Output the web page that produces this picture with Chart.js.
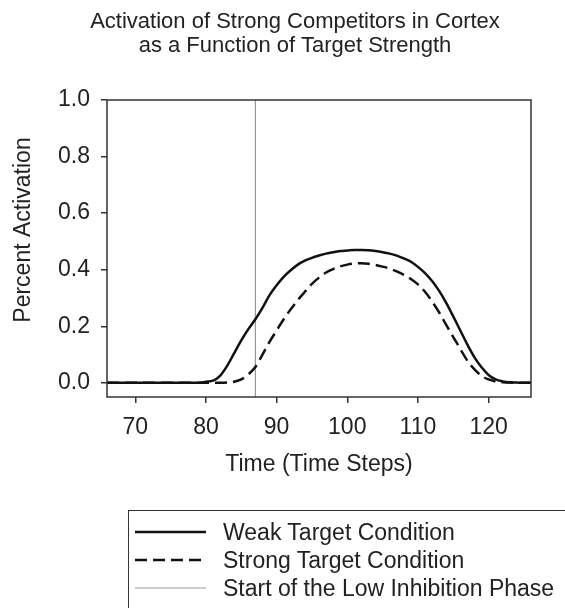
<!DOCTYPE html>
<html>
<head>
<meta charset="utf-8">
<script src="https://cdn.jsdelivr.net/npm/chart.js@4.4.1/dist/chart.umd.min.js"></script>
<style>
  body { margin: 0; background: #fff; }
  #wrap { position: relative; width: 565px; height: 608px; overflow: hidden; font-family: "Liberation Sans", Arial, sans-serif; color: #222; }
  #chart { position: absolute; left: 0; top: 0; }
  #title { position: absolute; left: 0; top: 9px; width: 590px; text-align: center; font-size: 22px; line-height: 24px; }
  #legend { position: absolute; left: 128px; top: 510px; width: 500px; height: 200px; border-top: 1.5px solid #333; border-left: 1.5px solid #333; }
  .row { position: absolute; left: 0; height: 28px; display: flex; align-items: center; font-size: 23px; }
  .row svg { margin-left: 6px; margin-right: 17px; }
</style>
</head>
<body>
<div id="wrap">
  <canvas id="chart" width="565" height="608"></canvas>
  <div id="title">Activation of Strong Competitors in Cortex<br>as a Function of Target Strength</div>
  <div id="legend"></div>
</div>
<script>
/* global Chart*/

// Pasos de tiempo de la simulación
const timeSteps = [];
for (let t = 66; t <= 126; t++) timeSteps.push(t);

// Activación con objetivo débil (66..126)
const weakTarget = [
  0, 0, 0, 0, 0, 0, 0, 0, 0, 0, 0, 0, 0, 0,
  0.004, 0.008, 0.025, 0.06, 0.105, 0.15, 0.19, 0.225, 0.265, 0.31,
  0.345, 0.375, 0.398, 0.418, 0.432, 0.442, 0.45, 0.457, 0.462, 0.466,
  0.468, 0.47, 0.47, 0.469, 0.466, 0.462, 0.457, 0.45, 0.44, 0.428,
  0.41, 0.388, 0.36, 0.325, 0.283, 0.235, 0.185, 0.135, 0.09, 0.055,
  0.028, 0.012, 0.005, 0.002, 0.001, 0, 0
];

// Activación con objetivo fuerte (66..126)
const strongTarget = [
  0, 0, 0, 0, 0, 0, 0, 0, 0, 0, 0, 0, 0, 0, 0, 0, 0,
  0.001, 0.004, 0.012, 0.03, 0.056, 0.1, 0.145, 0.185, 0.225, 0.26,
  0.293, 0.322, 0.35, 0.372, 0.39, 0.402, 0.412, 0.418, 0.422, 0.423,
  0.421, 0.417, 0.411, 0.404, 0.394, 0.382, 0.367, 0.348, 0.322, 0.288,
  0.249, 0.205, 0.162, 0.12, 0.078, 0.048, 0.025, 0.012, 0.005, 0.002,
  0.001, 0, 0, 0
];

// Inicio de la fase de baja inhibición
const lowInhibitionStart = 87;

const xTicks = [70, 80, 90, 100, 110, 120];
const yTicks = [0, 0.2, 0.4, 0.6, 0.8, 1.0];
const seriesNames = ['Weak Target Condition', 'Strong Target Condition', 'Start of the Low Inhibition Phase'];

const X_MIN = 66, X_MAX = 126, Y_MIN = -0.05, Y_MAX = 1.0;
const FONT = '"Liberation Sans", Arial, sans-serif';

function points(values) {
  return timeSteps.map((t, i) => ({ x: t, y: values[i] }));
}

// Marco completo alrededor del área del gráfico + título del eje Y
const framePlugin = {
  id: 'frame',
  afterDatasetsDraw(chart) {
    const a = chart.chartArea;
    const ctx = chart.ctx;
    ctx.save();
    ctx.strokeStyle = '#333';
    ctx.lineWidth = 1.5;
    ctx.strokeRect(a.left, a.top, a.right - a.left, a.bottom - a.top);

    ctx.translate(24, 230);
    ctx.rotate(-Math.PI / 2);
    ctx.fillStyle = '#222';
    ctx.font = '23px ' + FONT;
    ctx.textAlign = 'center';
    ctx.textBaseline = 'middle';
    ctx.fillText('Percent Activation', 0, 0);
    ctx.restore();
  }
};

const styles = [
  { color: '#111', width: 2.5, dash: [] },
  { color: '#111', width: 2.5, dash: [12, 6] },
  { color: '#999', width: 1.2, dash: [] }
];

var ctx = document.getElementById('chart').getContext('2d');
var myChart = new Chart(ctx, {
  type: 'line',
  data: {
    datasets: [
      {
        label: seriesNames[0],
        data: points(weakTarget),
        borderColor: styles[0].color,
        borderWidth: styles[0].width,
        pointRadius: 0,
        cubicInterpolationMode: 'monotone'
      },
      {
        label: seriesNames[1],
        data: points(strongTarget),
        borderColor: styles[1].color,
        borderWidth: styles[1].width,
        borderDash: styles[1].dash,
        pointRadius: 0,
        cubicInterpolationMode: 'monotone'
      },
      {
        label: seriesNames[2],
        data: [{ x: lowInhibitionStart, y: Y_MIN }, { x: lowInhibitionStart, y: Y_MAX }],
        borderColor: styles[2].color,
        borderWidth: styles[2].width,
        pointRadius: 0
      }
    ]
  },
  options: {
    responsive: false,
    animation: false,
    layout: { padding: { top: 100, right: 34, bottom: 130, left: 0 } },
    plugins: {
      legend: { display: false },
      tooltip: { enabled: false }
    },
    scales: {
      x: {
        type: 'linear',
        min: X_MIN,
        max: X_MAX,
        afterBuildTicks: (scale) => { scale.ticks = xTicks.map(v => ({ value: v })); },
        afterFit: (scale) => { scale.height = 81; },
        grid: { drawOnChartArea: false, drawTicks: true, tickLength: 6, color: '#333', lineWidth: 1.5 },
        border: { display: false },
        ticks: { color: '#222', font: { family: FONT, size: 23 }, padding: 11, maxRotation: 0, autoSkip: false },
        title: { display: true, text: 'Time (Time Steps)', color: '#222', font: { family: FONT, size: 23 }, padding: 0 }
      },
      y: {
        min: Y_MIN,
        max: Y_MAX,
        afterBuildTicks: (scale) => { scale.ticks = yTicks.map(v => ({ value: v })); },
        afterFit: (scale) => { scale.width = 107; },
        grid: { drawOnChartArea: false, drawTicks: true, tickLength: 6, color: '#333', lineWidth: 1.5 },
        border: { display: false },
        ticks: { color: '#222', font: { family: FONT, size: 23 }, padding: 11, callback: v => v.toFixed(1) }
      }
    }
  },
  plugins: [framePlugin]
});

// Leyenda a mano, con las muestras de línea
const legend = document.getElementById('legend');
seriesNames.forEach((name, i) => {
  const s = styles[i];
  const row = document.createElement('div');
  row.className = 'row';
  row.style.top = (7 + i * 28) + 'px';
  row.innerHTML =
    '<svg width="71" height="10"><line x1="0" y1="5" x2="71" y2="5" stroke="' + s.color +
    '" stroke-width="' + s.width + '" stroke-dasharray="' + (s.dash.length ? s.dash.join(' ') : 'none') +
    '"/></svg><span>' + name + '</span>';
  legend.appendChild(row);
});
</script>
</body>
</html>
